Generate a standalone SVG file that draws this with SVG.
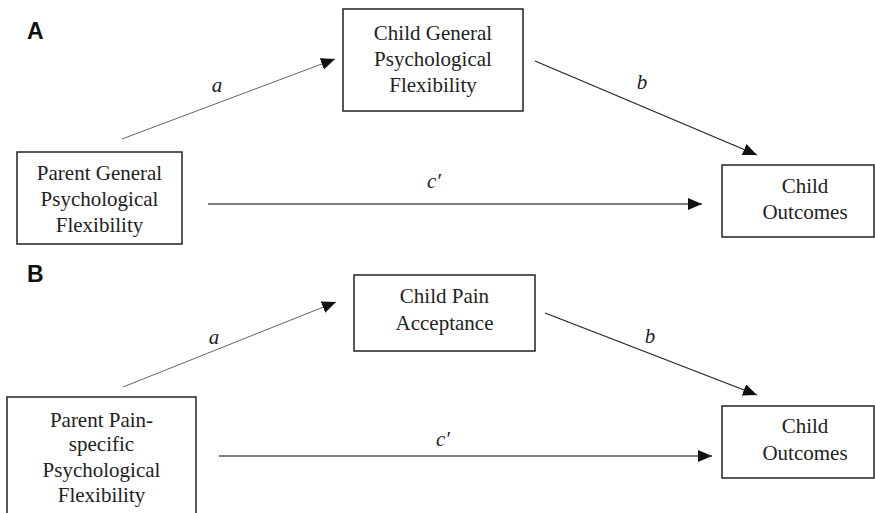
<svg xmlns="http://www.w3.org/2000/svg" width="875" height="513" viewBox="0 0 875 513">
<style>
.box{fill:#fff;stroke:#222;stroke-width:1.5}
.t{font-family:"Liberation Serif","Times New Roman",serif;font-size:21px;fill:#222;text-anchor:middle}
.lbl{font-family:"Liberation Serif","Times New Roman",serif;font-size:21px;font-style:italic;fill:#222;text-anchor:middle}
.panel{font-family:"Liberation Sans",Arial,sans-serif;font-size:23px;font-weight:bold;fill:#111}
.ca{stroke:#666;stroke-width:1;fill:none}
.cb{stroke:#222;stroke-width:1.2;fill:none}
.cc{stroke:#555;stroke-width:1.6;fill:none}
</style>
<defs>
<marker id="ah" markerUnits="userSpaceOnUse" markerWidth="15" markerHeight="13" refX="14" refY="6" orient="auto">
<path d="M0,0 L14,6 L0,12 z" fill="#111"/>
</marker>
</defs>
<text class="panel" x="27" y="39">A</text>
<text class="panel" x="27" y="282">B</text>
<g id="connectors">
<line class="ca" x1="122" y1="139" x2="335" y2="59" marker-end="url(#ah)"/>
<line class="cb" x1="535" y1="61" x2="757" y2="155" marker-end="url(#ah)"/>
<line class="cc" x1="208" y1="204" x2="702" y2="204" marker-end="url(#ah)"/>
<text class="lbl" x="217" y="92">a</text>
<text class="lbl" x="642" y="89">b</text>
<text class="lbl" x="434" y="188">c′</text>
<line class="ca" x1="123" y1="387" x2="336" y2="302" marker-end="url(#ah)"/>
<line class="cb" x1="545" y1="313" x2="757" y2="395" marker-end="url(#ah)"/>
<line class="cc" x1="219" y1="456" x2="712" y2="456" marker-end="url(#ah)"/>
<text class="lbl" x="214" y="344">a</text>
<text class="lbl" x="650" y="343">b</text>
<text class="lbl" x="443" y="446">c′</text>
</g>
<g id="parentA">
<rect class="box" x="17" y="152" width="165" height="92"/>
<text class="t" x="99.5" y="180">Parent General</text>
<text class="t" x="99.5" y="206">Psychological</text>
<text class="t" x="99.5" y="232">Flexibility</text>
</g>
<g id="childGeneral">
<rect class="box" x="343" y="9" width="180" height="102"/>
<text class="t" x="433" y="40">Child General</text>
<text class="t" x="433" y="66">Psychological</text>
<text class="t" x="433" y="92">Flexibility</text>
</g>
<g id="outcomesA">
<rect class="box" x="722" y="165" width="152" height="72"/>
<text class="t" x="805" y="193">Child</text>
<text class="t" x="805" y="219">Outcomes</text>
</g>
<g id="parentB">
<rect class="box" x="7" y="397" width="189" height="130"/>
<text class="t" x="101.5" y="427">Parent Pain-</text>
<text class="t" x="101.5" y="451">specific</text>
<text class="t" x="101.5" y="477">Psychological</text>
<text class="t" x="101.5" y="502">Flexibility</text>
</g>
<g id="childPain">
<rect class="box" x="354" y="275" width="181" height="76"/>
<text class="t" x="444.5" y="303">Child Pain</text>
<text class="t" x="444.5" y="330">Acceptance</text>
</g>
<g id="outcomesB">
<rect class="box" x="722" y="406" width="152" height="72"/>
<text class="t" x="805" y="433">Child</text>
<text class="t" x="805" y="460">Outcomes</text>
</g>
</svg>
